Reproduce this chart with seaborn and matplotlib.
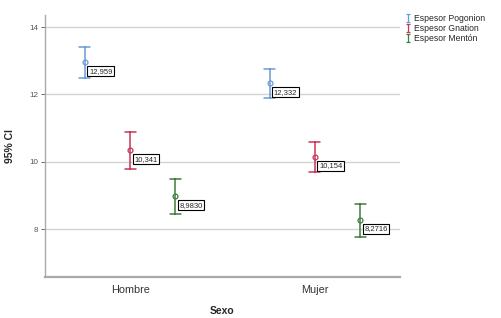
import numpy as np
import pandas as pd
import seaborn as sns
import matplotlib.pyplot as plt
from matplotlib.lines import Line2D
from matplotlib.path import Path

# Summary values (mean and 95% CI bounds)
sexo = ['Hombre', 'Mujer']
medidas = ['Espesor Pogonion', 'Espesor Gnation', 'Espesor Mentón']
media = {'Espesor Pogonion': [12.959, 12.332],
         'Espesor Gnation': [10.341, 10.154],
         'Espesor Mentón': [8.9830, 8.2716]}
ci_low = {'Espesor Pogonion': [12.50, 11.90],
          'Espesor Gnation': [9.79, 9.70],
          'Espesor Mentón': [8.46, 7.78]}
ci_high = {'Espesor Pogonion': [13.41, 12.75],
           'Espesor Gnation': [10.88, 10.58],
           'Espesor Mentón': [9.50, 8.75]}
etiquetas = {'Espesor Pogonion': ['12,959', '12,332'],
             'Espesor Gnation': ['10,341', '10,154'],
             'Espesor Mentón': ['8,9830', '8,2716']}
colores = ['#6b9bd6', '#c8365c', '#3f7d3f']

# long table: lower bound, mean, upper bound per group -> median + full range
rows = []
for m in medidas:
    for i, s in enumerate(sexo):
        for v in (ci_low[m][i], media[m][i], ci_high[m][i]):
            rows.append({'Sexo': s, 'Medida': m, 'valor': v})
df = pd.DataFrame(rows)

sns.set_style('white')
plt.rcParams['font.family'] = ['Liberation Sans', 'DejaVu Sans']

fig = plt.figure(figsize=(5.01, 3.18), dpi=100)
ax = fig.add_axes([0.09, 0.129, 0.708, 0.824])

sns.pointplot(data=df, x='Sexo', y='valor', hue='Medida', order=sexo,
              hue_order=medidas, palette=colores, estimator='median',
              errorbar=('pi', 100), dodge=0.49, linestyle='none',
              markers='o', markersize=3.5, markerfacecolor='none',
              markeredgewidth=0.9, capsize=0.06,
              err_kws={'linewidth': 1.1}, legend=False, ax=ax)

offs = [-0.245, 0, 0.245]
for j, m in enumerate(medidas):
    for i, s in enumerate(sexo):
        ax.annotate(etiquetas[m][i], (i + offs[j], media[m][i]),
                    xytext=(3, -6.5), textcoords='offset points',
                    fontsize=5.5, va='center', ha='left',
                    bbox=dict(boxstyle='square,pad=0.2', fc='white',
                              ec='black', lw=0.8))

ax.set_xlim(-0.46, 1.46)
ax.set_ylim(6.58, 14.36)
ax.set_yticks([8, 10, 12, 14])
ax.yaxis.grid(True, color='#d4d4d4', linewidth=1)
ax.set_axisbelow(True)
ax.tick_params(axis='y', labelsize=5.8, colors='#555555', length=3,
               width=0.6, left=True, pad=2)
ax.tick_params(axis='x', labelsize=7.8, colors='#333333', length=0, pad=6)
sns.despine(ax=ax)
ax.spines['left'].set_color('#aaaaaa')
ax.spines['left'].set_linewidth(1)
ax.spines['bottom'].set_color('#aaaaaa')
ax.spines['bottom'].set_linewidth(1.6)

ax.set_xlabel('Sexo', fontsize=7.5, fontweight='bold', labelpad=8)
ax.set_ylabel('95% CI', fontsize=7.5, fontweight='bold', labelpad=10)

# error-bar glyph for the legend
ibar = Path([(-0.5, 1), (0.5, 1), (0, 1), (0, -1), (-0.5, -1), (0.5, -1)],
            [Path.MOVETO, Path.LINETO, Path.MOVETO, Path.LINETO,
             Path.MOVETO, Path.LINETO])
handles = [Line2D([], [], marker=ibar, linestyle='none', color=c,
                  markersize=6, markeredgewidth=0.9, markerfacecolor='none')
           for c in colores]
fig.legend(handles, medidas, loc='upper left', bbox_to_anchor=(0.803, 0.967),
           frameon=False, fontsize=6.2, handlelength=0.5, handletextpad=0.5,
           labelspacing=0.12, borderaxespad=0)

fig.savefig('out.png', dpi=100)
